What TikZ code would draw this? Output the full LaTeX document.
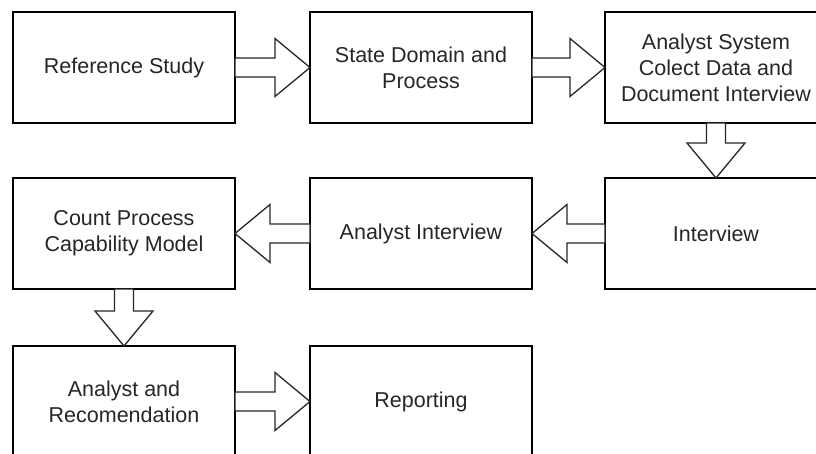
\documentclass[tikz,border=0pt]{standalone}
\usepackage{fontspec}
\setmainfont{Liberation Sans}
\usetikzlibrary{calc}
\usetikzlibrary{positioning}

\begin{document}
\begin{tikzpicture}[x=1pt,y=-1pt]

        \useasboundingbox (0,0) rectangle (816,453);
        \clip (0,0) rectangle (816,453);

        \begin{scope}[every node/.style={rectangle,draw,line width=1.5pt,outer sep=0pt,
            minimum width=222pt,minimum height=111pt,align=center,
            font=\fontsize{21.5}{26}\selectfont,text=black!85}]
            \node (ref)  at (124,67.5)  {Reference Study};
            \node (dom)  at (421,67.5)  {State Domain and\\Process};
            \node (col)  at (716,67.5)  {Analyst System\\Colect Data and\\Document Interview};
            \node (intv) at (716,233.5) {Interview};
            \node (anl)  at (421,233.5) {Analyst Interview};
            \node (cnt)  at (124,233.5) {Count Process\\Capability Model};
            \node (rec)  at (124,401.5) {Analyst and\\Recomendation};
            \node (rep)  at (421,401.5) {Reporting};
        \end{scope}

        \begin{scope}[fat/.style={draw=black!85,fill=white,line width=1.3pt,
            to path={let \p1=(\tikztostart), \p2=(\tikztotarget),
                \n1={veclen(\x2-\x1,\y2-\y1)}, \n2={(\x2-\x1)/\n1},
                \n3={(\y2-\y1)/\n1}, \n4={\n1-35} in
                ({\x1-9.5*\n3},{\y1+9.5*\n2})
                -- ({\x1+\n4*\n2-9.5*\n3},{\y1+\n4*\n3+9.5*\n2})
                -- ({\x1+\n4*\n2-29*\n3},{\y1+\n4*\n3+29*\n2})
                -- (\p2)
                -- ({\x1+\n4*\n2+29*\n3},{\y1+\n4*\n3-29*\n2})
                -- ({\x1+\n4*\n2+9.5*\n3},{\y1+\n4*\n3-9.5*\n2})
                -- ({\x1+9.5*\n3},{\y1-9.5*\n2}) -- cycle}}]
            \path [fat] (ref.east) to (dom.west);
            \path [fat] (dom.east) to (col.west);
            \path [fat] (col.south) to (intv.north);
            \path [fat] (intv.west) to (anl.east);
            \path [fat] (anl.west) to (cnt.east);
            \path [fat] (cnt.south) to (rec.north);
            \path [fat] (rec.east) to (rep.west);
        \end{scope}
    \end{tikzpicture}
\end{document}
